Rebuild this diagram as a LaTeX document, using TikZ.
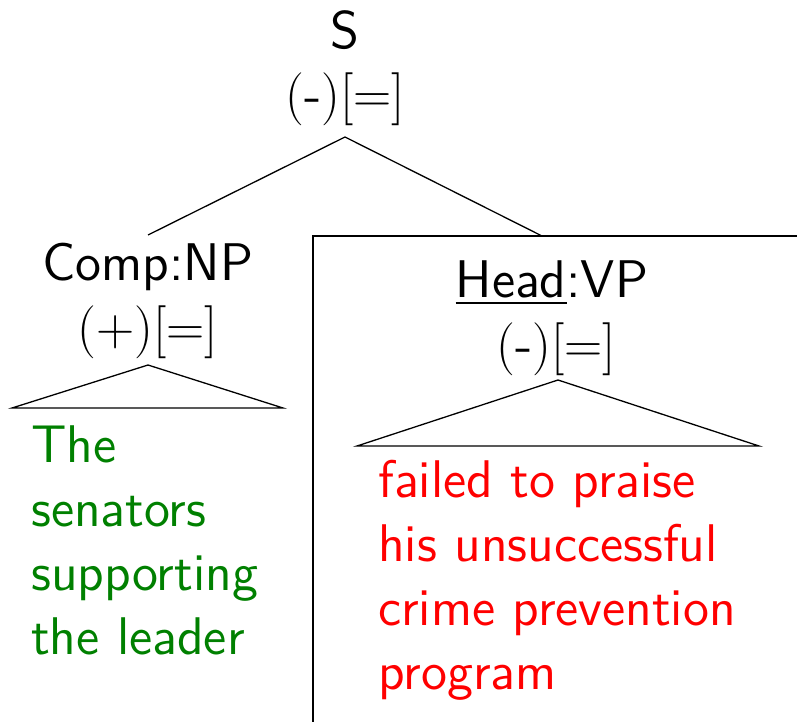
\documentclass[tikz,border=0pt]{standalone}
\usepackage{fontspec}
\setsansfont{lmsans12-regular.otf}
\usepackage{xcolor}
\definecolor{npgreen}{RGB}{0,128,0}
\definecolor{vpred}{RGB}{255,0,0}
% underline drawn as a rule, independent of the math font sizes
\newcommand\ulword[1]{\setbox0\hbox{#1}\rlap{\rule[-7pt]{\wd0}{2.2pt}}\box0}
% feature brackets: serif delimiters around a sans sign
\newcommand\feat[1]{{\rmfamily(}#1{\rmfamily)[=]}}
\begin{document}
\begin{tikzpicture}[x=1pt,y=-1pt,
  big/.style={font=\fontsize{53}{64}\selectfont\sffamily, inner sep=0pt},
  edge/.style={line width=1.3pt, line join=miter},
]
\useasboundingbox (0,0) rectangle (797,722);
\clip (0,0) rectangle (797,722);

% root
\node[big, anchor=base] (sLab)  at (345,49)  {S};
\node[big, anchor=base] (sFeat) at (345,113) {\feat{-}};
\coordinate (sTip)  at (345,137);
\coordinate (npTip) at (148,235);
\coordinate (vpTip) at (542,236);
\draw[edge] (npTip) -- (sTip) -- (vpTip);

% frame around the head constituent
\draw[edge] (313,740) -- (313,236) -- (810,236);

% complement NP
\node[big, anchor=base] (npLab)  at (148,280) {Comp:NP};
\node[big, anchor=base] (npFeat) at (148,345) {{\rmfamily(+)[=]}};
\coordinate (npApex) at (148,365);
\coordinate (npL) at (12,408);
\coordinate (npR) at (283,408);
\draw[edge] (npL) -- (npApex) -- (npR) -- cycle;
\node[big, anchor=base west, text width=300pt, align=left, text=npgreen]
  (npWords) at (31,462) {The\\senators\\supporting\\the leader};

% head VP
\node[big, anchor=base] (vpLab)  at (552,297) {\ulword{Head}:VP};
\node[big, anchor=base] (vpFeat) at (556,362) {\feat{-}};
\coordinate (vpApex) at (558,380);
\coordinate (vpL) at (357,446);
\coordinate (vpR) at (759,446);
\draw[edge] (vpL) -- (vpApex) -- (vpR) -- cycle;
\node[big, anchor=base west, text width=420pt, align=left, text=vpred]
  (vpWords) at (378,497) {failed to praise\\his unsuccessful\\crime prevention\\program};
\end{tikzpicture}
\end{document}
